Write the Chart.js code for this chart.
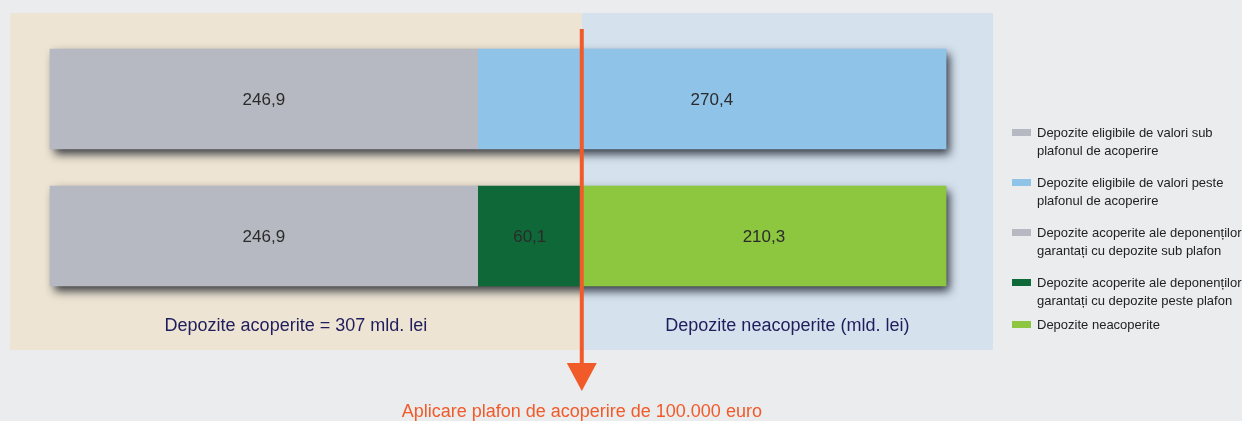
<!DOCTYPE html>
<html>
<head>
<meta charset="utf-8">
<script src="https://cdn.jsdelivr.net/npm/chart.js@4"></script>
<style>
  html,body{margin:0;padding:0;background:#ebecee;}
  #wrap{position:relative;width:1242px;height:421px;overflow:hidden;}
  #c{position:absolute;left:0;top:0;}
  #legend{position:absolute;left:1012px;top:124px;width:240px;font-family:'Liberation Sans Narrow','Arial Narrow',sans-serif;font-size:13px;line-height:18px;color:#222;}
  .it{position:relative;padding-left:25px;margin-bottom:14px;white-space:nowrap;}
  .it:nth-child(4){margin-bottom:6px;}
  .sw{position:absolute;left:0;top:5px;width:19px;height:7px;}
</style>
</head>
<body>
<div id="wrap">
  <canvas id="c" width="1242" height="421"></canvas>
  <div id="legend"></div>
</div>
<script>
// ---- data ----
const categories = ["Depozite eligibile", "Depozite acoperite / neacoperite"];
const seriesNames = [
  "Depozite eligibile de valori sub plafonul de acoperire",
  "Depozite eligibile de valori peste plafonul de acoperire",
  "Depozite acoperite ale deponenților garantați cu depozite sub plafon",
  "Depozite acoperite ale deponenților garantați cu depozite peste plafon",
  "Depozite neacoperite"
];
// word count of each legend entry's first line
const legendFirstLineWords = [5, 5, 4, 4, 2];
const eligibleBelow   = [246.9, null];
const eligibleAbove   = [270.4, null];
const coveredBelow    = [null, 246.9];
const coveredAbove    = [null, 60.1];
const uncovered       = [null, 210.3];
const coveredTotal = 307;          // mld. lei, plafon de acoperire
const coveredLabel = "Depozite acoperite = 307 mld. lei";
const uncoveredLabel = "Depozite neacoperite (mld. lei)";
const arrowLabel = "Aplicare plafon de acoperire de 100.000 euro";

const colors = ["#b6b9c1", "#8fc3e8", "#b6b9c1", "#0e6838", "#8dc63f"];
const seriesValues = [eligibleBelow, eligibleAbove, coveredBelow, coveredAbove, uncovered];

const fmt = v => v.toFixed(1).replace('.', ',');
const NARROW = "'Liberation Sans Narrow','Arial Narrow',sans-serif";

const REG_TOP = 13, REG_BOTTOM = 350;

const bgPlugin = {
  id: 'bg',
  beforeDraw(chart) {
    const {ctx, chartArea, scales} = chart;
    const xs = scales.x.getPixelForValue(coveredTotal);
    ctx.save();
    ctx.fillStyle = '#ede4d3';
    ctx.fillRect(chartArea.left, REG_TOP, xs - chartArea.left, REG_BOTTOM - REG_TOP);
    ctx.fillStyle = '#d5e2ee';
    ctx.fillRect(xs, REG_TOP, chartArea.right - xs, REG_BOTTOM - REG_TOP);
    ctx.fillStyle = '#1f1d5c';
    ctx.font = "18px " + NARROW;
    ctx.textAlign = 'center';
    ctx.textBaseline = 'alphabetic';
    ctx.fillText(coveredLabel, (chartArea.left + xs) / 2, 331);
    ctx.fillText(uncoveredLabel, (xs + chartArea.right) / 2, 331);
    ctx.restore();
  },
  beforeDatasetsDraw(chart) {
    const {ctx, scales} = chart;
    ctx.save();
    categories.forEach((c, i) => {
      let total = 0;
      seriesValues.forEach(s => { if (s[i] != null) total += s[i]; });
      const y = scales.y.getPixelForValue(i);
      const x0 = scales.x.getPixelForValue(0), x1 = scales.x.getPixelForValue(total);
      ctx.shadowColor = 'rgba(20,25,35,0.85)';
      ctx.shadowBlur = 9;
      ctx.shadowOffsetX = 4;
      ctx.shadowOffsetY = 5;
      ctx.fillStyle = '#4a505a';
      ctx.fillRect(x0, y - 50, x1 - x0, 100);
    });
    ctx.restore();
  },
  afterDatasetsDraw(chart) {
    const {ctx, scales} = chart;
    ctx.save();
    ctx.font = "17px 'Liberation Sans', Arial, sans-serif";
    ctx.fillStyle = '#2b2b2b';
    ctx.textAlign = 'center';
    ctx.textBaseline = 'middle';
    chart.data.datasets.forEach((ds, di) => {
      chart.getDatasetMeta(di).data.forEach((el, i) => {
        const v = ds.data[i];
        if (v == null) return;
        ctx.fillText(fmt(v), (el.x + el.base) / 2, el.y + 1);
      });
    });
    const xs = scales.x.getPixelForValue(coveredTotal);
    ctx.fillStyle = '#f15a29';
    ctx.fillRect(xs - 2, 29, 4, 337);
    ctx.beginPath();
    ctx.moveTo(xs - 15, 363);
    ctx.lineTo(xs + 15, 363);
    ctx.lineTo(xs, 391);
    ctx.closePath();
    ctx.fill();
    ctx.font = "18px " + NARROW;
    ctx.textBaseline = 'alphabetic';
    ctx.fillText(arrowLabel, xs, 417);
    ctx.restore();
  }
};

new Chart(document.getElementById('c'), {
  type: 'bar',
  data: {
    labels: categories,
    datasets: seriesNames.map((n, i) => ({
      label: n,
      data: seriesValues[i],
      backgroundColor: colors[i],
      borderWidth: 0,
      barThickness: 100,
      stack: 's'
    }))
  },
  options: {
    indexAxis: 'y',
    responsive: false,
    animation: false,
    layout: { padding: { left: 10, right: 249, top: 30.5, bottom: 116.5 } },
    scales: {
      x: { stacked: true, display: false, min: -23.09, max: 544.4 },
      y: { stacked: true, display: false }
    },
    plugins: { legend: { display: false }, tooltip: { enabled: false } }
  },
  plugins: [bgPlugin]
});

// HTML legend
const lg = document.getElementById('legend');
seriesNames.forEach((n, i) => {
  const d = document.createElement('div');
  d.className = 'it';
  const sw = document.createElement('span');
  sw.className = 'sw';
  sw.style.background = colors[i];
  d.appendChild(sw);
  const words = n.split(' ');
  const k = legendFirstLineWords[i];
  d.appendChild(document.createTextNode(words.slice(0, k).join(' ')));
  if (k < words.length) {
    d.appendChild(document.createElement('br'));
    d.appendChild(document.createTextNode(words.slice(k).join(' ')));
  }
  lg.appendChild(d);
});
</script>
</body>
</html>
